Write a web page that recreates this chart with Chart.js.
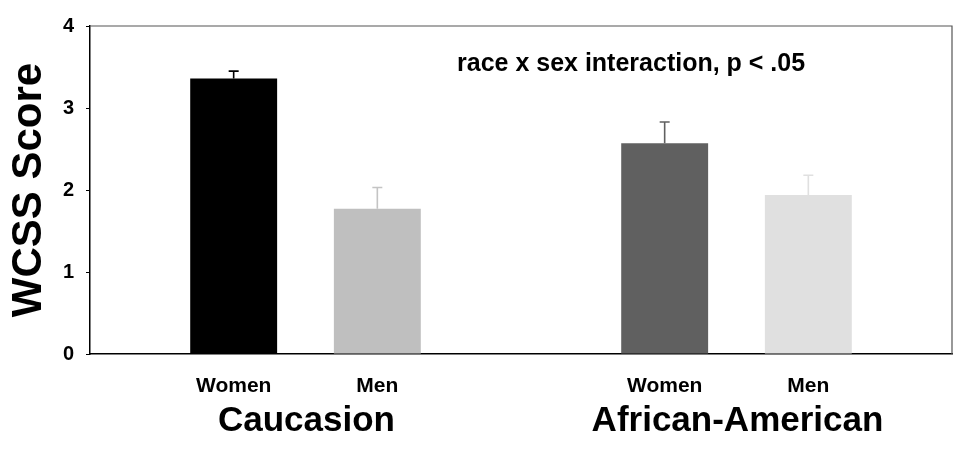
<!DOCTYPE html>
<html>
<head>
<meta charset="utf-8">
<script src="https://cdn.jsdelivr.net/npm/chart.js@4.4.1/dist/chart.umd.min.js"></script>
<style>
  html, body { margin: 0; padding: 0; background: #fff; }
  #wrap { width: 966px; height: 452px; position: relative; }
</style>
</head>
<body>
<div id="wrap"><canvas id="chart"></canvas></div>
<script>
// ─── DATA ────────────────────────────────────────────────────────
const groups = ['Caucasion', 'African-American'];
const sexes = ['Women', 'Men'];
const means = [3.36, 1.77, 2.57, 1.94];       // Caucasion W/M, African-American W/M
const errTops = [3.45, 2.03, 2.83, 2.18];     // top of the error whisker
const barColors = ['#000000', '#bfbfbf', '#606060', '#e0e0e0'];
const yTicks = [0, 1, 2, 3, 4];
const note = 'race x sex interaction, p < .05';

const FONT = "'Liberation Sans', Arial, Helvetica, sans-serif";

// slots: spacer, W, M, spacer, W, M, spacer
const labels = [''];
const values = [null];
const tops = [null];
const colors = ['#fff'];
const groupSlots = [];
groups.forEach((g, gi) => {
  const start = labels.length;
  sexes.forEach((s, si) => {
    const k = gi * sexes.length + si;
    labels.push(s);
    values.push(means[k]);
    tops.push(errTops[k]);
    colors.push(barColors[k]);
  });
  groupSlots.push([start, labels.length - 1]);
  labels.push('');
  values.push(null);
  tops.push(null);
  colors.push('#fff');
});

const decor = {
  id: 'decor',
  afterDatasetsDraw(chart) {
    const { ctx, chartArea: a, scales: { x, y } } = chart;
    ctx.save();

    // error whiskers (upper only)
    values.forEach((v, i) => {
      if (v == null) return;
      const px = x.getPixelForValue(i);
      const y0 = y.getPixelForValue(v);
      const y1 = y.getPixelForValue(tops[i]);
      ctx.strokeStyle = colors[i] === '#bfbfbf' ? '#c4c4c4' : colors[i];
      ctx.lineWidth = 1.6;
      ctx.beginPath();
      ctx.moveTo(px, y0);
      ctx.lineTo(px, y1);
      ctx.moveTo(px - 5, y1);
      ctx.lineTo(px + 5, y1);
      ctx.stroke();
    });

    // top and right frame
    ctx.strokeStyle = '#555';
    ctx.lineWidth = 1.2;
    ctx.beginPath();
    ctx.moveTo(a.left, a.top);
    ctx.lineTo(a.right, a.top);
    ctx.lineTo(a.right, a.bottom);
    ctx.stroke();

    // group names
    ctx.fillStyle = '#000';
    ctx.font = 'bold 35px ' + FONT;
    ctx.textAlign = 'center';
    ctx.textBaseline = 'alphabetic';
    groups.forEach((g, gi) => {
      const [s, e] = groupSlots[gi];
      const cx = (x.getPixelForValue(s) + x.getPixelForValue(e)) / 2;
      ctx.fillText(g, cx + 1, a.bottom + 77);
    });

    // interaction note
    ctx.font = 'bold 25px ' + FONT;
    ctx.textAlign = 'left';
    ctx.fillText(note, a.left + 367, a.top + 45);

    ctx.restore();
  }
};

new Chart(document.getElementById('chart'), {
  type: 'bar',
  data: {
    labels,
    datasets: [{
      data: values,
      backgroundColor: colors,
      borderWidth: 0,
      barPercentage: 0.605,
      categoryPercentage: 1,
    }]
  },
  options: {
    responsive: true,
    maintainAspectRatio: false,
    animation: false,
    layout: { padding: { top: 26, right: 14, left: 0, bottom: 0 } },
    plugins: { legend: { display: false }, tooltip: { enabled: false } },
    scales: {
      x: {
        offset: false,
        grid: { display: false },
        border: { display: true, color: '#000', width: 1.5 },
        ticks: {
          color: '#000',
          font: { family: FONT, size: 21, weight: 'bold' },
          padding: 12,
          maxRotation: 0,
          autoSkip: false,
        },
        afterFit: s => { s.height = 98; },
      },
      y: {
        min: yTicks[0],
        max: yTicks[yTicks.length - 1],
        afterBuildTicks: s => { s.ticks = yTicks.map(v => ({ value: v })); },
        grid: { display: true, drawOnChartArea: false, tickLength: 4, color: '#000' },
        border: { display: true, color: '#000', width: 1.5 },
        ticks: {
          color: '#000',
          font: { family: FONT, size: 20, weight: 'bold' },
          padding: 12,
        },
        title: {
          display: true,
          text: 'WCSS Score',
          color: '#000',
          font: { family: FONT, size: 42, weight: 'bold' },
          padding: { top: 4, bottom: 0 },
        },
        afterFit: s => { s.width = 90; },
      }
    }
  },
  plugins: [decor]
});
</script>
</body>
</html>
